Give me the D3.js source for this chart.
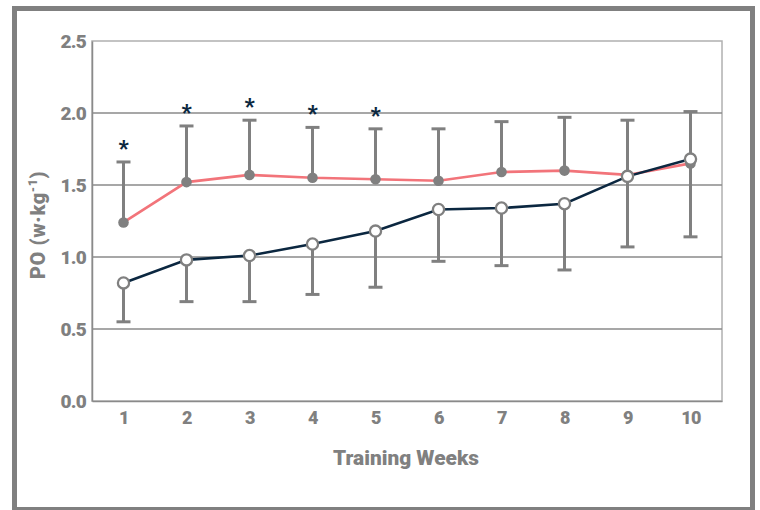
<!DOCTYPE html>
<html>
<head>
<meta charset="utf-8">
<script src="https://cdn.jsdelivr.net/npm/d3@7"></script>
<style>
  html, body { margin: 0; padding: 0; background: #fff; }
  svg { display: block; }
  text { font-family: "Roboto", sans-serif; font-weight: 900; fill: #808080; }
</style>
</head>
<body>
<svg id="chart" width="760" height="510"></svg>
<script>
// Peak power output per training week, two groups
const weeks = [1, 2, 3, 4, 5, 6, 7, 8, 9, 10];
const groupAMean = [1.24, 1.52, 1.57, 1.55, 1.54, 1.53, 1.59, 1.60, 1.57, 1.65];
const groupASD   = [0.42, 0.39, 0.38, 0.35, 0.35, 0.36, 0.35, 0.37, 0.38, 0.36];
const groupBMean = [0.82, 0.98, 1.01, 1.09, 1.18, 1.33, 1.34, 1.37, 1.56, 1.68];
const groupBSD   = [0.27, 0.29, 0.32, 0.35, 0.39, 0.36, 0.40, 0.46, 0.49, 0.54];
const significantWeeks = [1, 2, 3, 4, 5];
const yTicks = [0, 0.5, 1.0, 1.5, 2.0, 2.5];

const svg = d3.select("#chart");
const margin = { left: 92, top: 41, right: 38, bottom: 109 };
const W = 760, H = 510;
const plotW = W - margin.left - margin.right;
const plotH = H - margin.top - margin.bottom;

// outer frame
svg.append("rect")
  .attr("x", 14.5).attr("y", 8.5)
  .attr("width", 738).attr("height", 501)
  .attr("fill", "none").attr("stroke", "#808080").attr("stroke-width", 5);

const g = svg.append("g").attr("transform", `translate(${margin.left},${margin.top})`);

const x = d3.scalePoint().domain(weeks).range([0, plotW]).padding(0.5);
const y = d3.scaleLinear().domain([0, 2.5]).range([plotH, 0]);

// plot border (top/right lighter)
g.append("rect")
  .attr("x", 0).attr("y", 0).attr("width", plotW).attr("height", plotH)
  .attr("fill", "none").attr("stroke", "#b0b0b0").attr("stroke-width", 1.5);

// horizontal grid
g.append("g").selectAll("line").data(yTicks.filter(d => d > 0 && d < 2.5)).join("line")
  .attr("x1", 0).attr("x2", plotW)
  .attr("y1", d => y(d)).attr("y2", d => y(d))
  .attr("stroke", "#8a8a8a").attr("stroke-width", 1.3);

// y axis
const yAxis = g.append("g").call(
  d3.axisLeft(y).tickValues(yTicks).tickFormat(d3.format(".1f")).tickSize(0).tickPadding(6)
);
yAxis.select(".domain").attr("stroke", "#8a8a8a").attr("stroke-width", 1.5);
yAxis.selectAll("text").attr("font-size", 19).attr("fill", "#808080")
  .attr("font-family", "Roboto").attr("font-weight", 900).attr("letter-spacing", -0.8)
  .attr("dy", "0.36em");

// x axis
const xAxis = g.append("g").attr("transform", `translate(0,${plotH})`).call(
  d3.axisBottom(x).tickSize(0).tickPadding(10)
);
xAxis.select(".domain").attr("stroke", "#8a8a8a").attr("stroke-width", 1.5);
xAxis.selectAll("text").attr("font-size", 18).attr("fill", "#808080")
  .attr("font-family", "Roboto").attr("font-weight", 900).attr("letter-spacing", -0.6);

// axis titles
svg.append("text")
  .attr("x", margin.left + plotW / 2 - 1).attr("y", 465)
  .attr("text-anchor", "middle").attr("font-size", 21)
  .attr("textLength", 146).attr("lengthAdjust", "spacingAndGlyphs")
  .text("Training Weeks");

const yl = svg.append("text")
  .attr("transform", `translate(45,225) rotate(-90)`)
  .attr("text-anchor", "middle").attr("font-size", 20).attr("letter-spacing", 0.6);
yl.append("tspan").text("PO (w·kg");
yl.append("tspan").attr("font-size", 12).attr("dy", -8).text("-1");
yl.append("tspan").attr("dy", 8).text(")");

const capW = 7;
const errColor = "#808080";

// group A error bars (upper)
const errA = g.append("g");
weeks.forEach((w, i) => {
  const cx = x(w), y0 = y(groupAMean[i]), y1 = y(groupAMean[i] + groupASD[i]);
  errA.append("line").attr("x1", cx).attr("x2", cx).attr("y1", y0).attr("y2", y1)
    .attr("stroke", errColor).attr("stroke-width", 3);
  errA.append("line").attr("x1", cx - capW).attr("x2", cx + capW).attr("y1", y1).attr("y2", y1)
    .attr("stroke", errColor).attr("stroke-width", 3);
});

// group B error bars (lower)
const errB = g.append("g");
weeks.forEach((w, i) => {
  const cx = x(w), y0 = y(groupBMean[i]), y1 = y(groupBMean[i] - groupBSD[i]);
  errB.append("line").attr("x1", cx).attr("x2", cx).attr("y1", y0).attr("y2", y1)
    .attr("stroke", errColor).attr("stroke-width", 3);
  errB.append("line").attr("x1", cx - capW).attr("x2", cx + capW).attr("y1", y1).attr("y2", y1)
    .attr("stroke", errColor).attr("stroke-width", 3);
});

const line = d3.line().x((d, i) => x(weeks[i])).y(d => y(d));

// group A line and filled markers
g.append("path").datum(groupAMean).attr("d", line)
  .attr("fill", "none").attr("stroke", "#f2747a").attr("stroke-width", 2.6);
g.append("g").selectAll("circle").data(groupAMean).join("circle")
  .attr("cx", (d, i) => x(weeks[i])).attr("cy", d => y(d)).attr("r", 5.3)
  .attr("fill", "#808080");

// group B line and open markers
g.append("path").datum(groupBMean).attr("d", line)
  .attr("fill", "none").attr("stroke", "#0b2740").attr("stroke-width", 2.6);
g.append("g").selectAll("circle").data(groupBMean).join("circle")
  .attr("cx", (d, i) => x(weeks[i])).attr("cy", d => y(d)).attr("r", 5.6)
  .attr("fill", "#fff").attr("stroke", "#808080").attr("stroke-width", 2.3);

// significance markers
g.append("g").selectAll("text").data(significantWeeks).join("text")
  .attr("x", d => x(d))
  .attr("y", d => y(groupAMean[d - 1] + groupASD[d - 1]) - 6)
  .attr("text-anchor", "middle").attr("font-size", 22)
  .attr("font-family", "Roboto").attr("font-weight", 700)
  .style("fill", "#0b2740")
  .text("*");
</script>
</body>
</html>
